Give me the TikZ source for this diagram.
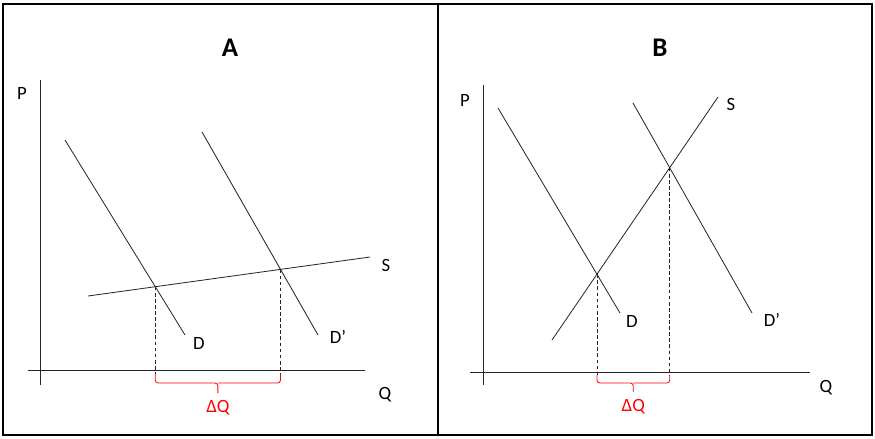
\documentclass[tikz,border=0pt]{standalone}
\usepackage{fontspec}
\setmainfont{Carlito}
\usetikzlibrary{calc}
\definecolor{colRed}{HTML}{FF0000}
\tikzset{
  % panel frame and axes
  frame/.style={line width=1.8pt, black},
  axis/.style={line width=0.7pt, black!85},
  % demand / supply lines
  curve/.style={line width=0.7pt, black!85},
  guide/.style={dash pattern=on 3.2pt off 2pt, line width=0.6pt, black!85},
  % texts
  lbl/.style={font=\fontsize{16}{18}\selectfont, inner sep=1pt},
  ttl/.style={font=\fontsize{23}{26}\selectfont\bfseries, inner sep=1pt},
  dq/.style={lbl, text=colRed},
  % red bracket under the quantity change
  bracket/.style={draw=colRed, line width=0.7pt, rounded corners=2.5},
}

\begin{document}
\begin{tikzpicture}[x=0.03cm, y=-0.03cm]
\useasboundingbox (0,0) rectangle (875,438);

%% frame
\coordinate (fTL) at (3,4);
\coordinate (fBR) at (872,435);
\coordinate (divT) at (438,4);
\coordinate (divB) at (438,435);
\draw[frame] (fTL) rectangle (fBR);
\draw[frame] (divT) -- (divB);

%% ---------------------------------------------------------------
%% PANEL A
%% ---------------------------------------------------------------
\node[ttl] (titA) at (230,48) {A};

\coordinate (pAtop) at (40,80);
\coordinate (pAbot) at (40,385);
\coordinate (qAl) at (28,370);
\coordinate (qAr) at (365,370);
\draw[axis] (pAtop) -- (pAbot);
\draw[axis] (qAl) -- (qAr);
\node[lbl] (pA) at (22,93) {P};
\node[lbl] (qA) at (385,395) {Q};

\coordinate (dA1) at (65,140);
\coordinate (dA2) at (185,335);
\coordinate (ddA1) at (202,132);
\coordinate (ddA2) at (318,335);
\coordinate (sA1) at (88,296);
\coordinate (sA2) at (370,257);
\draw[curve] (dA1) -- (dA2);
\draw[curve] (ddA1) -- (ddA2);
\draw[curve] (sA1) -- (sA2);
\node[lbl] (labDA) at (199,343) {D};
\node[lbl] (labDDA) at (338,337) {D’};
\node[lbl] (labSA) at (386,265) {S};

% equilibrium points and drop lines
\coordinate (eA1) at (intersection of dA1--dA2 and sA1--sA2);
\coordinate (eA2) at (intersection of ddA1--ddA2 and sA1--sA2);
\coordinate (lvA) at (0,374);
\coordinate (hzA) at (0,383);
\coordinate (tpA) at (0,393);
\draw[guide] (eA1) -- (eA1 |- lvA);
\draw[guide] (eA2) -- (eA2 |- lvA);

\coordinate (mA) at ($(eA1)!0.5!(eA2)$);
\draw[bracket] (eA1 |- lvA) |- (mA |- hzA) -- (mA |- tpA);
\draw[bracket] (eA2 |- lvA) |- (mA |- hzA);
\node[dq] (dqA) at ($(mA |- tpA)+(0,15)$) {ΔQ};

%% ---------------------------------------------------------------
%% PANEL B
%% ---------------------------------------------------------------
\node[ttl] (titB) at (660,48) {B};

\coordinate (pBtop) at (483,85);
\coordinate (pBbot) at (483,385);
\coordinate (qBl) at (470,372);
\coordinate (qBr) at (810,372);
\draw[axis] (pBtop) -- (pBbot);
\draw[axis] (qBl) -- (qBr);
\node[lbl] (pB) at (465,100) {P};
\node[lbl] (qB) at (826,388) {Q};

\coordinate (dB1) at (498,108);
\coordinate (dB2) at (620,313);
\coordinate (ddB1) at (633,103);
\coordinate (ddB2) at (752,313);
\coordinate (sB1) at (552,340);
\coordinate (sB2) at (718,97);
\draw[curve] (dB1) -- (dB2);
\draw[curve] (ddB1) -- (ddB2);
\draw[curve] (sB1) -- (sB2);
\node[lbl] (labDB) at (632,321) {D};
\node[lbl] (labDDB) at (772,320) {D’};
\node[lbl] (labSB) at (731,104) {S};

\coordinate (eB1) at (intersection of dB1--dB2 and sB1--sB2);
\coordinate (eB2) at (intersection of ddB1--ddB2 and sB1--sB2);
\coordinate (lvB) at (0,375);
\coordinate (hzB) at (0,383);
\coordinate (tpB) at (0,392);
\draw[guide] (eB1) -- (eB1 |- lvB);
\draw[guide] (eB2) -- (eB2 |- lvB);

\coordinate (mB) at ($(eB1)!0.5!(eB2)$);
\draw[bracket] (eB1 |- lvB) |- (mB |- hzB) -- (mB |- tpB);
\draw[bracket] (eB2 |- lvB) |- (mB |- hzB);
\node[dq] (dqB) at ($(mB |- tpB)+(0,15)$) {ΔQ};

\end{tikzpicture}
\end{document}
